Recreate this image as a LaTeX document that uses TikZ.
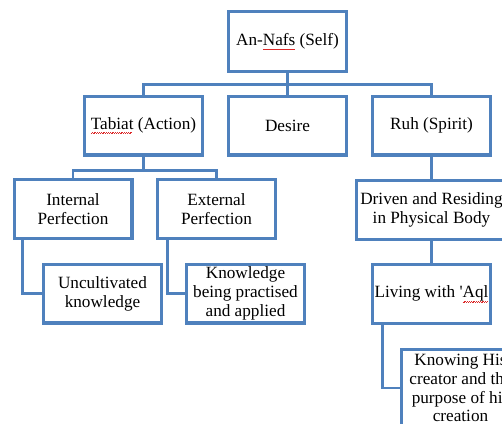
\documentclass[tikz,border=0pt]{standalone}
\usepackage{fontspec}
\setmainfont{Liberation Serif}[Ligatures=TeXOff]
\definecolor{boxblue}{RGB}{79,129,189}
\definecolor{spellred}{RGB}{220,40,40}
\newcommand\spellmark[1]{\setbox0=\hbox{#1}\rlap{\textcolor{spellred}{\leaders\hbox{\rule[-4.4pt]{0.9pt}{0.5pt}\rule[-3.7pt]{0.9pt}{0.5pt}}\hskip\wd0}}\box0\relax}
\begin{document}
\begin{tikzpicture}[x=1pt,y=-1pt,
  box/.style={draw=boxblue, line width=3.4pt, fill=white, minimum width=117.6pt,
    minimum height=58.6pt, align=center, inner sep=1pt,
    font=\fontsize{17.2}{18.8}\selectfont},
  conn/.style={draw=boxblue, line width=2.8pt}]
\useasboundingbox (0,0) rectangle (502,423);
\begin{scope}
\clip (0,0) rectangle (502,423);
\node[box, minimum height=59.6pt] (root) at (287.5,41.5) {An-\spellmark{Nafs} (Self)};
\node[box] (tabiat) at (143.5,125.5) {\spellmark{Tabiat} (Action)};
\node[box] (desire) at (287.5,125.5) {Desire};
\node[box] (ruh) at (431.5,125.5) {Ruh (Spirit)};
\node[box] (internal) at (73,209) {Internal\\Perfection};
\node[box] (external) at (216.5,209) {External\\Perfection};
\node[box] (uncult) at (102.5,293.5) {Uncultivated\\knowledge};
\node[box] (knowpr) at (245.5,293.5) {Knowledge\\being practised\\and applied};
\node[box, minimum width=149.6pt] (driven) at (431.5,210) {Driven and Residing\\in Physical Body};
\node[box] (living) at (431.5,294) {Living with '\spellmark{Aql}};
\node[box, minimum height=76.6pt] (knowing) at (460.5,388) {Knowing His\\creator and the\\purpose of his\\creation};
\draw[conn] (root.south) -- (desire.north);
\draw[conn] (root.south) -- ++(0,11.7) coordinate (hb);
\draw[conn] (tabiat.north) |- (hb) -| (ruh.north);
\draw[conn] (tabiat.south) -- ++(0,13.7) coordinate (hc);
\draw[conn] (internal.north) |- (hc) -| (external.north);
\draw[conn] ([xshift=10.3pt]internal.south west) |- (uncult.west);
\draw[conn] ([xshift=11.3pt]external.south west) |- (knowpr.west);
\draw[conn] (ruh.south) -- (driven.north);
\draw[conn] (driven.south) -- (living.north);
\draw[conn] ([xshift=11.3pt]living.south west) |- (knowing.west);
\end{scope}
\end{tikzpicture}
\end{document}
